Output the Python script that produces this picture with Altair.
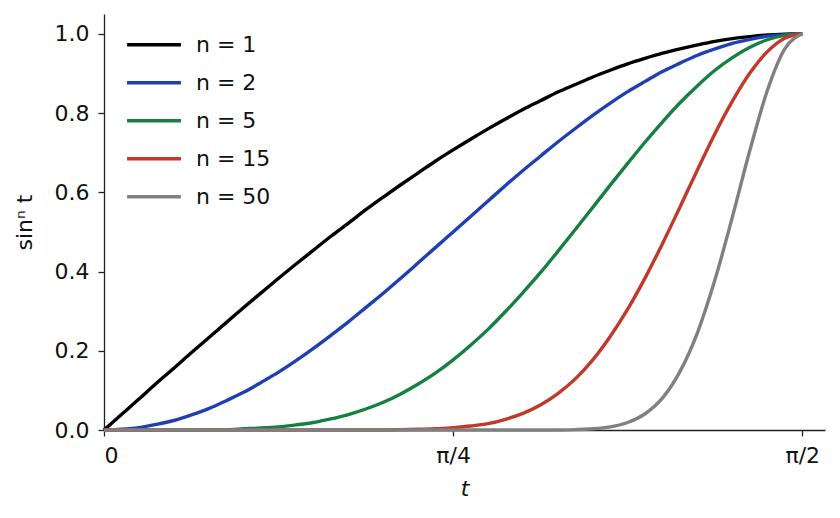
import altair as alt
import pandas as pd

# t sampled every pi/80 from 0 to pi/2
t = [0.0, 0.0393, 0.0785, 0.1178, 0.1571, 0.1963, 0.2356, 0.2749, 0.3142, 0.3534,
     0.3927, 0.4320, 0.4712, 0.5105, 0.5498, 0.5890, 0.6283, 0.6676, 0.7069, 0.7461,
     0.7854, 0.8247, 0.8639, 0.9032, 0.9425, 0.9817, 1.0210, 1.0603, 1.0996, 1.1388,
     1.1781, 1.2174, 1.2566, 1.2959, 1.3352, 1.3744, 1.4137, 1.4530, 1.4923, 1.5315,
     1.5708]

n1 = [0.000, 0.039, 0.078, 0.118, 0.156, 0.195, 0.233, 0.271, 0.309, 0.346,
      0.383, 0.419, 0.454, 0.489, 0.522, 0.556, 0.588, 0.619, 0.649, 0.679,
      0.707, 0.734, 0.760, 0.785, 0.809, 0.831, 0.853, 0.872, 0.891, 0.908,
      0.924, 0.938, 0.951, 0.962, 0.972, 0.981, 0.988, 0.993, 0.997, 0.999,
      1.000]
n2 = [0.000, 0.002, 0.006, 0.014, 0.024, 0.038, 0.054, 0.074, 0.095, 0.120,
      0.146, 0.175, 0.206, 0.239, 0.273, 0.309, 0.345, 0.383, 0.422, 0.461,
      0.500, 0.539, 0.578, 0.617, 0.655, 0.691, 0.727, 0.761, 0.794, 0.825,
      0.854, 0.880, 0.905, 0.926, 0.946, 0.962, 0.976, 0.986, 0.994, 0.998,
      1.000]
n5 = [0.000, 0.000, 0.000, 0.000, 0.000, 0.000, 0.001, 0.001, 0.003, 0.005,
      0.008, 0.013, 0.019, 0.028, 0.039, 0.053, 0.070, 0.091, 0.116, 0.144,
      0.177, 0.214, 0.254, 0.299, 0.347, 0.397, 0.451, 0.506, 0.562, 0.618,
      0.673, 0.727, 0.778, 0.826, 0.869, 0.908, 0.940, 0.966, 0.985, 0.996,
      1.000]
n15 = [0.000, 0.000, 0.000, 0.000, 0.000, 0.000, 0.000, 0.000, 0.000, 0.000,
       0.000, 0.000, 0.000, 0.000, 0.000, 0.000, 0.000, 0.001, 0.002, 0.003,
       0.006, 0.010, 0.016, 0.027, 0.042, 0.063, 0.092, 0.129, 0.177, 0.236,
       0.305, 0.384, 0.471, 0.563, 0.657, 0.748, 0.830, 0.901, 0.955, 0.989,
       1.000]
n50 = [0.000, 0.000, 0.000, 0.000, 0.000, 0.000, 0.000, 0.000, 0.000, 0.000,
       0.000, 0.000, 0.000, 0.000, 0.000, 0.000, 0.000, 0.000, 0.000, 0.000,
       0.000, 0.000, 0.000, 0.000, 0.000, 0.000, 0.000, 0.001, 0.003, 0.008,
       0.019, 0.041, 0.081, 0.148, 0.246, 0.379, 0.538, 0.706, 0.857, 0.962,
       1.000]

labels = ["n = 1", "n = 2", "n = 5", "n = 15", "n = 50"]
colors = ["#000000", "#1f40b0", "#168040", "#c0392b", "#808080"]

rows = []
for label, values in zip(labels, [n1, n2, n5, n15, n50]):
    for ti, v in zip(t, values):
        rows.append({"t": ti, "value": v, "series": label})
df = pd.DataFrame(rows)

font = "DejaVu Sans"

chart = alt.Chart(df).mark_line(strokeWidth=3.4, interpolate="monotone").encode(
    x=alt.X("t:Q",
        scale=alt.Scale(domain=[0, 1.622], nice=False, zero=False),
        axis=alt.Axis(
            values=[0, 0.7854, 1.5708],
            labelExpr="datum.value == 0 ? '0' : (datum.value < 1 ? 'π/4' : 'π/2')",
            title="t", titleFontStyle="italic", titlePadding=12, labelPadding=9
        )),
    y=alt.Y("value:Q",
        scale=alt.Scale(domain=[0, 1.05], nice=False),
        axis=alt.Axis(
            values=[0, 0.2, 0.4, 0.6, 0.8, 1.0], format=".1f",
            title="sinⁿ t", titlePadding=18, labelPadding=9
        )),
    color=alt.Color("series:N", sort=labels,
        scale=alt.Scale(domain=labels, range=colors),
        legend=alt.Legend(
            title=None, orient="none", legendX=21, legendY=12,
            symbolType="M-1,0H1", symbolStrokeWidth=3.4, symbolSize=2900,
            labelFontSize=22, labelFont=font, labelColor="#111111",
            labelOffset=13, rowPadding=0, clipHeight=37.5, padding=0
        )),
).properties(
    width=721,
    height=416,
    padding={"left": 5, "top": 6, "right": 5, "bottom": 5}
).configure_axis(
    grid=False,
    domainColor="#222222", domainWidth=1.3,
    tickColor="#222222", tickWidth=1.3, tickSize=6,
    labelFont=font, labelFontSize=22, labelColor="#111111",
    titleFont=font, titleFontSize=22, titleFontWeight="normal", titleColor="#111111"
).configure_view(
    stroke=None
)

chart.save("out.html", embed_options={"renderer": "svg", "actions": False})
